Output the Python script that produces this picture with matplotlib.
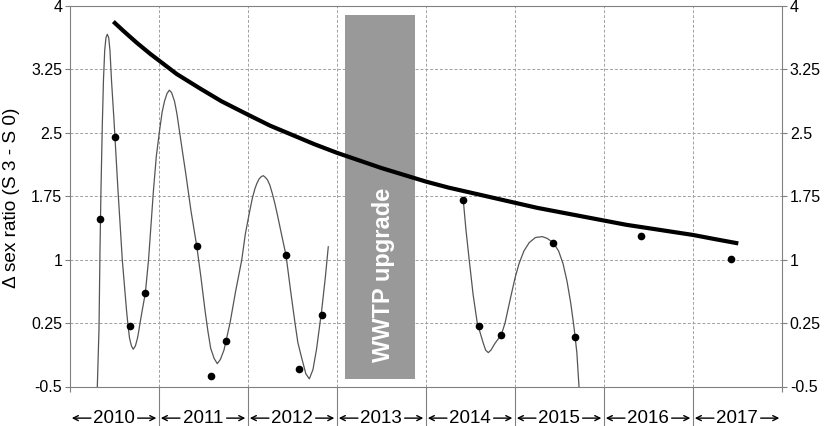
import matplotlib.pyplot as plt

plt.rcParams['font.family'] = ['Liberation Sans', 'DejaVu Sans']
plt.rcParams['axes.unicode_minus'] = False

# smooth fitted curve, 2010-2012
fit1_x = [2010.307, 2010.326, 2010.337, 2010.348, 2010.363, 2010.376, 2010.390, 2010.404,
          2010.419, 2010.435, 2010.449, 2010.466, 2010.494, 2010.539, 2010.588, 2010.635,
          2010.652, 2010.669, 2010.690, 2010.711, 2010.735, 2010.758, 2010.772, 2010.787,
          2010.815, 2010.846, 2010.882, 2010.938, 2010.970, 2011.006, 2011.035, 2011.062,
          2011.090, 2011.116, 2011.142, 2011.174, 2011.200, 2011.228, 2011.260, 2011.300,
          2011.360, 2011.424, 2011.470, 2011.517, 2011.550, 2011.581, 2011.620, 2011.655,
          2011.690, 2011.730, 2011.798, 2011.860, 2011.929, 2011.970, 2012.015, 2012.050,
          2012.079, 2012.100, 2012.124, 2012.150, 2012.172, 2012.195, 2012.219, 2012.245,
          2012.273, 2012.300, 2012.334, 2012.380, 2012.427, 2012.480, 2012.528, 2012.560,
          2012.600, 2012.650, 2012.689, 2012.730, 2012.770, 2012.809, 2012.828, 2012.870,
          2012.902]
fit1_y = [-0.50, 0.19, 1.11, 1.82, 2.59, 3.12, 3.47, 3.62,
          3.66, 3.62, 3.47, 3.12, 2.65, 1.82, 0.99, 0.40,
          0.22, 0.07, -0.02, -0.06, -0.02, 0.07, 0.15, 0.25,
          0.42, 0.60, 0.99, 1.82, 2.22, 2.52, 2.74, 2.87,
          2.96, 3.00, 2.97, 2.87, 2.73, 2.53, 2.30, 2.02,
          1.57, 1.16, 0.80, 0.40, 0.15, -0.05, -0.17, -0.23,
          -0.18, -0.07, 0.25, 0.62, 0.99, 1.30, 1.55, 1.73,
          1.84, 1.90, 1.95, 1.98, 1.99, 1.97, 1.94, 1.88,
          1.78, 1.67, 1.51, 1.28, 1.05, 0.62, 0.25, 0.02,
          -0.15, -0.35, -0.41, -0.30, -0.06, 0.25, 0.40, 0.80,
          1.15]

# smooth fitted curve, 2014-2015
fit2_x = [2014.419, 2014.449, 2014.486, 2014.530, 2014.576, 2014.644, 2014.670, 2014.700,
          2014.730, 2014.775, 2014.846, 2014.888, 2014.944, 2015.000, 2015.045, 2015.100,
          2015.160, 2015.230, 2015.307, 2015.360, 2015.430, 2015.490, 2015.540, 2015.585,
          2015.627, 2015.663, 2015.695, 2015.719]
fit2_y = [1.70, 1.35, 0.99, 0.58, 0.25, 0.01, -0.07, -0.10,
          -0.07, 0.01, 0.11, 0.25, 0.52, 0.78, 0.95, 1.10,
          1.20, 1.26, 1.27, 1.25, 1.20, 1.10, 0.95, 0.74,
          0.48, 0.20, -0.10, -0.50]

# measured values
obs_x = [2010.340, 2010.506, 2010.674, 2010.846, 2011.424, 2011.581, 2011.749,
         2012.427, 2012.576, 2012.828,
         2014.419, 2014.599, 2014.846, 2015.430, 2015.677, 2016.416, 2017.424]
obs_y = [1.48, 2.45, 0.21, 0.60, 1.16, -0.38, 0.04,
         1.05, -0.29, 0.35,
         1.70, 0.22, 0.11, 1.20, 0.09, 1.28, 1.01]

# long-term trend
trend_x = [2010.487, 2010.6, 2010.75, 2010.9, 2011.0, 2011.2, 2011.461, 2011.7,
           2012.0, 2012.25, 2012.5, 2012.75, 2013.0, 2013.25, 2013.5, 2013.75,
           2014.0, 2014.25, 2014.5, 2014.75, 2015.0, 2015.25, 2015.5, 2015.75,
           2016.0, 2016.25, 2016.5, 2016.75, 2017.0, 2017.25, 2017.509]
trend_y = [3.81, 3.70, 3.56, 3.43, 3.35, 3.19, 3.02, 2.87,
           2.71, 2.58, 2.47, 2.36, 2.26, 2.17, 2.08, 2.00,
           1.92, 1.85, 1.79, 1.73, 1.67, 1.61, 1.56, 1.51,
           1.46, 1.41, 1.37, 1.33, 1.29, 1.24, 1.19]

years = [2010, 2011, 2012, 2013, 2014, 2015, 2016, 2017]
yticks = [4, 3.25, 2.5, 1.75, 1, 0.25, -0.5]
ytick_labels = ['4', '3.25', '2.5', '1.75', '1', '0.25', '-0.5']

fig = plt.figure(figsize=(8.29, 4.26), dpi=100)
ax = fig.add_axes([70 / 829, 1 - 386.5 / 426, 712 / 829, 381 / 426])
ax.set_xlim(2010, 2018)
ax.set_ylim(-0.5, 4)

# upgrade period
ax.bar(2013.483, 4.30, width=0.787, bottom=-0.41, color='#999999', zorder=2)
ax.text(2013.517, 0.82, 'WWTP upgrade', rotation=90, color='white', fontsize=17,
        fontweight='bold', ha='center', va='center', zorder=3)

ax.plot(trend_x, trend_y, color='black', lw=3, solid_capstyle='butt', zorder=4)
ax.plot(fit1_x, fit1_y, color='#555555', lw=0.9, zorder=5)
ax.plot(fit2_x, fit2_y, color='#555555', lw=0.9, zorder=5)
ax.plot(obs_x, obs_y, 'o', color='black', ms=4.5, zorder=6)

# axes styling
for s in ax.spines.values():
    s.set_color('#808080')
ax.set_yticks(yticks)
ax.set_yticklabels(ytick_labels)
ax.yaxis.set_ticks_position('both')
ax.tick_params(axis='y', labelleft=True, labelright=True, length=3.6, width=0.8,
               color='#808080', labelsize=11.5, pad=2)
ax.set_xticks(years[1:])
ax.set_xticks([2010, 2018], minor=True)
ax.tick_params(axis='x', which='major', length=30, width=0.8, color='#808080',
               labelbottom=False)
ax.tick_params(axis='x', which='minor', length=3.6, width=0.8, color='#808080')
ax.grid(True, color='#a0a0a0', linestyle=(0, (3, 2)), lw=0.7, zorder=0)
ax.set_axisbelow(True)

# year labels with arrows below the axis
tr = ax.get_xaxis_transform()
for yr in years:
    ax.text(yr + 0.494, -0.083, str(yr), transform=tr, ha='center', va='center', fontsize=13.5)
    arrow = dict(arrowstyle='->', lw=1, color='black', shrinkA=0, shrinkB=0, mutation_scale=9)
    ax.annotate('', xy=(yr + 0.02, -0.083), xytext=(yr + 0.235, -0.083), xycoords=tr,
                textcoords=tr, arrowprops=arrow, annotation_clip=False)
    ax.annotate('', xy=(yr + 0.97, -0.083), xytext=(yr + 0.76, -0.083), xycoords=tr,
                textcoords=tr, arrowprops=arrow, annotation_clip=False)

fig.text(12 / 829, 1 - 198 / 426, '\u0394 sex ratio (S 3 - S 0)', rotation=90,
         ha='center', va='center', fontsize=13.7)

fig.savefig('out.png', dpi=100)
